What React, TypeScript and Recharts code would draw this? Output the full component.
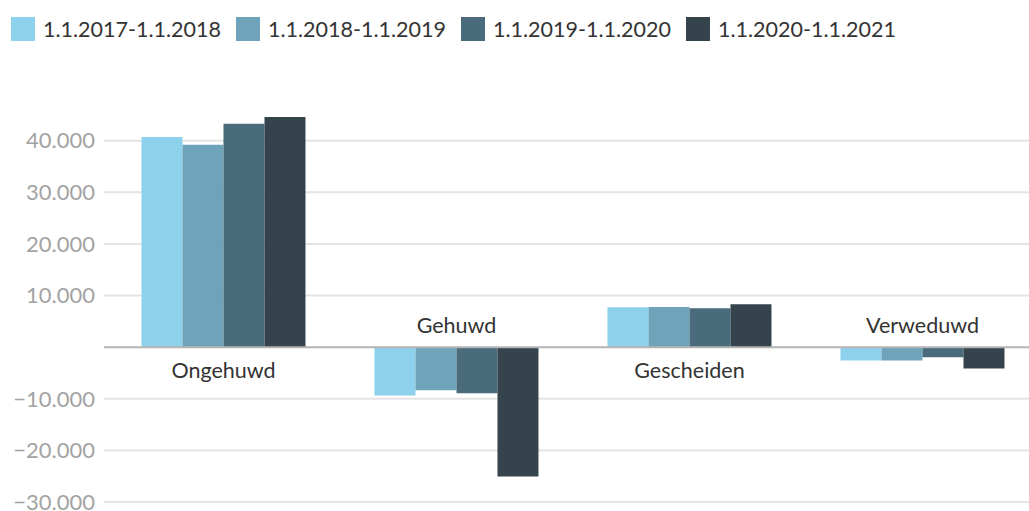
import React from "react";
import { BarChart, Bar, XAxis, YAxis, CartesianGrid, ReferenceLine, ReferenceDot, Legend } from "recharts";

const categories = ["Ongehuwd", "Gehuwd", "Gescheiden", "Verweduwd"];
const seriesNames = ["1.1.2017-1.1.2018", "1.1.2018-1.1.2019", "1.1.2019-1.1.2020", "1.1.2020-1.1.2021"];
const s2017 = [40700, -9380, 7710, -2580];
const s2018 = [39200, -8350, 7770, -2580];
const s2019 = [43250, -8930, 7510, -1940];
const s2020 = [44600, -25050, 8290, -4140];
const yTicks = [-30000, -20000, -10000, 10000, 20000, 30000, 40000];
const colors = ["#8ed1ec", "#6fa3b9", "#4a6b7c", "#35444c"];

const seriesValues = [s2017, s2018, s2019, s2020];
const data = categories.map((c, i) => {
  const row: any = { name: c };
  seriesNames.forEach((s, j) => {
    row[s] = seriesValues[j][i];
  });
  return row;
});

const FONT = "Lato, 'Open Sans', sans-serif";

const fmt = (v: number) => {
  const abs = Math.abs(v).toLocaleString("de-DE");
  return v < 0 ? "\u2212" + abs : abs;
};

const LegendContent = () => (
  <div style={{ height: 89, boxSizing: "border-box", paddingTop: 17, paddingLeft: 11, display: "flex", fontFamily: FONT }}>
    {seriesNames.map((s, i) => (
      <div key={s} style={{ display: "flex", alignItems: "center", width: 225, height: 24 }}>
        <div style={{ width: 24, height: 24, background: colors[i], marginRight: 8, flexShrink: 0 }} />
        <span style={{ fontSize: 21.5, color: "#333333", whiteSpace: "nowrap" }}>{s}</span>
      </div>
    ))}
  </div>
);

export default function App() {
  return (
    <div style={{ position: "absolute", left: 0, top: 0, width: 1029, height: 511, overflow: "hidden", background: "#fff" }}>
      <BarChart
        width={1040}
        height={511}
        data={data}
        margin={{ top: 0, right: 1, bottom: 9, left: 0 }}
        barCategoryGap="14.8%"
        barGap={0}
      >
        <Legend verticalAlign="top" align="left" content={<LegendContent />} wrapperStyle={{ left: 0, top: 0, width: 1040 }} />
        <CartesianGrid vertical={false} stroke="#e4e4e4" strokeWidth={2} horizontalValues={yTicks} />
        <XAxis dataKey="name" hide padding={{ left: 3, right: 0 }} />
        <YAxis
          domain={[-30000, 50000]}
          ticks={yTicks}
          interval={0}
          allowDataOverflow
          width={104}
          axisLine={false}
          tickLine={false}
          tickSize={0}
          tickMargin={9}
          tickFormatter={fmt}
          tick={{ fill: "#a3a3a3", fontSize: 22, fontFamily: FONT }}
        />
        {seriesNames.map((s, i) => (
          <Bar key={s} dataKey={s} fill={colors[i]} isAnimationActive={false} />
        ))}
        <ReferenceLine y={0} stroke="#b3b3b3" strokeWidth={2} />
        {categories.map((c, i) => {
          const below = seriesValues.reduce((a, sv) => a + sv[i], 0) > 0;
          return (
            <ReferenceDot
              key={c}
              x={c}
              y={0}
              r={0}
              fill="none"
              stroke="none"
              label={{
                value: c,
                position: below ? "bottom" : "top",
                offset: below ? 16 : 14,
                fill: "#333333",
                fontSize: 21.5,
                fontFamily: FONT,
              }}
            />
          );
        })}
      </BarChart>
    </div>
  );
}
